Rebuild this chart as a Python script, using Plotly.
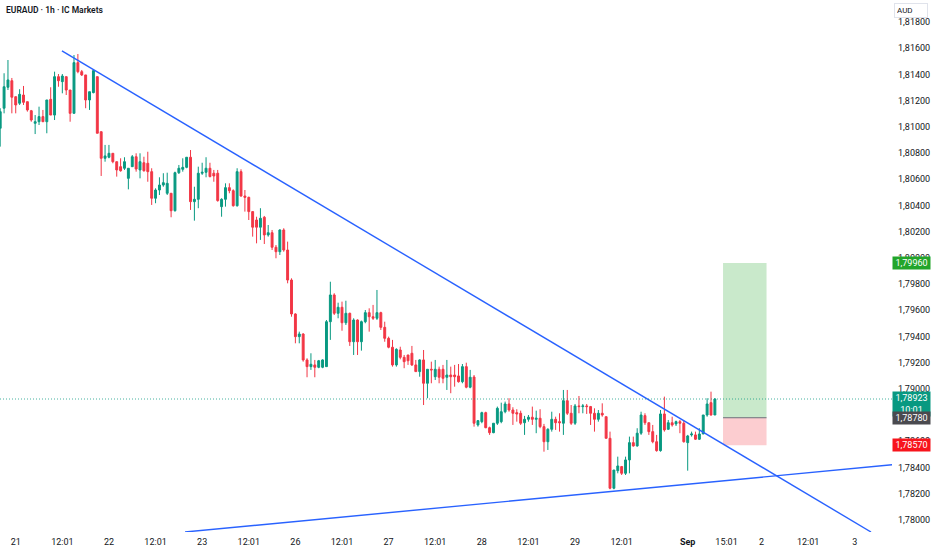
import plotly.graph_objects as go

opens = [1.80989,1.81142,1.81302,1.81352,1.81230,1.81180,1.81243,1.81192,1.81123,1.81027,
1.81039,1.81078,1.81039,1.81210,1.81090,1.81383,1.81345,1.81383,1.81281,1.81103,
1.81490,1.81421,1.81396,1.81205,1.81261,1.81383,1.80963,1.80760,1.80768,1.80798,
1.80734,1.80696,1.80684,1.80607,1.80696,1.80772,1.80671,1.80726,1.80722,1.80658,
1.80455,1.80518,1.80556,1.80493,1.80493,1.80360,1.80650,1.80676,1.80691,1.80768,
1.80429,1.80447,1.80646,1.80653,1.80684,1.80646,1.80646,1.80391,1.80447,1.80536,
1.80513,1.80398,1.80658,1.80472,1.80462,1.80353,1.80289,1.80234,1.80310,1.80175,
1.80192,1.80081,1.80047,1.80213,1.80060,1.79831,1.79572,1.79399,1.79419,1.79221,
1.79170,1.79183,1.79165,1.79165,1.79170,1.79513,1.79717,1.79577,1.79623,1.79505,
1.79577,1.79360,1.79526,1.79360,1.79513,1.79582,1.79551,1.79539,1.79582,1.79470,
1.79386,1.79318,1.79183,1.79297,1.79241,1.79259,1.79272,1.79183,1.79132,1.79221,
1.79043,1.79150,1.79093,1.79150,1.79150,1.79089,1.79106,1.79106,1.79099,1.79055,
1.79170,1.79013,1.79091,1.78725,1.78750,1.78819,1.78704,1.78666,1.78738,1.78750,
1.78826,1.78885,1.78839,1.78819,1.78814,1.78742,1.78768,1.78784,1.78768,1.78776,
1.78712,1.78597,1.78692,1.78768,1.78750,1.78738,1.78910,1.78814,1.78738,1.78870,
1.78865,1.78870,1.78865,1.78814,1.78768,1.78814,1.78788,1.78623,1.78242,1.78376,
1.78407,1.78356,1.78458,1.78590,1.78565,1.78662,1.78796,1.78742,1.78674,1.78597,
1.78529,1.78809,1.78692,1.78742,1.78733,1.78750,1.78738,1.78590,1.78649,1.78649,
1.78616,1.78656,1.78801,1.78895,1.78801]

highs = [1.81142,1.81409,1.81510,1.81373,1.81230,1.81287,1.81312,1.81192,1.81129,1.81090,
1.81154,1.81129,1.81205,1.81302,1.81421,1.81403,1.81403,1.81383,1.81281,1.81548,
1.81556,1.81434,1.81396,1.81268,1.81434,1.81383,1.80963,1.80862,1.80862,1.80798,
1.80734,1.80760,1.80768,1.80684,1.80785,1.80798,1.80798,1.80772,1.80810,1.80684,
1.80531,1.80615,1.80646,1.80650,1.80493,1.80658,1.80709,1.80760,1.80768,1.80823,
1.80543,1.80696,1.80726,1.80768,1.80726,1.80671,1.80671,1.80455,1.80569,1.80569,
1.80523,1.80684,1.80676,1.80518,1.80467,1.80353,1.80314,1.80379,1.80320,1.80251,
1.80213,1.80098,1.80218,1.80226,1.80124,1.79844,1.79577,1.79437,1.79425,1.79234,
1.79272,1.79221,1.79221,1.79226,1.79526,1.79818,1.79730,1.79658,1.79666,1.79673,
1.79582,1.79539,1.79531,1.79521,1.79602,1.79615,1.79641,1.79755,1.79589,1.79513,
1.79399,1.79374,1.79310,1.79322,1.79259,1.79259,1.79328,1.79221,1.79226,1.79297,
1.79150,1.79208,1.79221,1.79170,1.79183,1.79221,1.79170,1.79183,1.79190,1.79190,
1.79200,1.79145,1.79106,1.78758,1.78826,1.78826,1.78712,1.78738,1.78865,1.78895,
1.78903,1.78929,1.78860,1.78845,1.78834,1.78794,1.78801,1.78865,1.78834,1.78845,
1.78733,1.78700,1.78826,1.78788,1.78814,1.78992,1.78992,1.78877,1.78885,1.78946,
1.78885,1.78885,1.78870,1.78852,1.78839,1.78890,1.78788,1.78674,1.78381,1.78483,
1.78412,1.78483,1.78636,1.78636,1.78700,1.78826,1.78814,1.78742,1.78725,1.78649,
1.78839,1.78941,1.78763,1.78788,1.78758,1.78763,1.78758,1.78649,1.78674,1.78674,
1.78700,1.78801,1.78929,1.78979,1.78929]

lows = [1.80849,1.81103,1.81281,1.81103,1.81103,1.81167,1.81167,1.81116,1.81039,1.80945,
1.81014,1.81039,1.80951,1.81090,1.81052,1.81306,1.81256,1.81243,1.81039,1.81103,
1.81409,1.81388,1.81142,1.81129,1.81256,1.80951,1.80625,1.80734,1.80760,1.80722,
1.80620,1.80658,1.80671,1.80523,1.80696,1.80658,1.80607,1.80658,1.80581,1.80404,
1.80417,1.80480,1.80543,1.80480,1.80310,1.80353,1.80640,1.80658,1.80684,1.80366,
1.80284,1.80379,1.80633,1.80615,1.80615,1.80581,1.80429,1.80314,1.80391,1.80493,
1.80391,1.80391,1.80467,1.80353,1.80289,1.80162,1.80111,1.80137,1.80106,1.80162,
1.80060,1.79997,1.80022,1.80047,1.79806,1.79551,1.79348,1.79348,1.79208,1.79089,
1.79145,1.79089,1.79158,1.79158,1.79170,1.79374,1.79564,1.79539,1.79444,1.79488,
1.79328,1.79259,1.79259,1.79292,1.79501,1.79437,1.79526,1.79526,1.79450,1.79360,
1.79310,1.79170,1.79170,1.79226,1.79158,1.79183,1.79175,1.79132,1.79093,1.78877,
1.78929,1.79043,1.79068,1.79043,1.79043,1.78992,1.78967,1.79017,1.79048,1.79043,
1.79005,1.79005,1.78712,1.78712,1.78738,1.78700,1.78649,1.78662,1.78725,1.78738,
1.78814,1.78826,1.78725,1.78750,1.78725,1.78649,1.78750,1.78725,1.78662,1.78700,
1.78521,1.78534,1.78674,1.78687,1.78674,1.78649,1.78801,1.78725,1.78725,1.78814,
1.78814,1.78809,1.78725,1.78674,1.78750,1.78788,1.78623,1.78234,1.78234,1.78356,
1.78343,1.78343,1.78356,1.78559,1.78559,1.78649,1.78725,1.78649,1.78585,1.78521,
1.78521,1.78674,1.78687,1.78712,1.78717,1.78662,1.78590,1.78376,1.78636,1.78610,
1.78610,1.78656,1.78788,1.78796,1.78801]

closes = [1.81116,1.81306,1.81358,1.81226,1.81167,1.81248,1.81187,1.81129,1.81052,1.81039,
1.81078,1.81039,1.81205,1.81090,1.81383,1.81352,1.81388,1.81281,1.81103,1.81490,
1.81421,1.81396,1.81205,1.81268,1.81429,1.80951,1.80760,1.80778,1.80798,1.80734,
1.80671,1.80665,1.80734,1.80684,1.80772,1.80678,1.80734,1.80665,1.80658,1.80455,
1.80518,1.80556,1.80574,1.80569,1.80360,1.80650,1.80684,1.80691,1.80768,1.80429,
1.80447,1.80646,1.80653,1.80684,1.80620,1.80625,1.80437,1.80447,1.80536,1.80513,
1.80398,1.80658,1.80472,1.80462,1.80353,1.80234,1.80234,1.80302,1.80175,1.80192,
1.80081,1.80047,1.80213,1.80060,1.79831,1.79572,1.79399,1.79419,1.79221,1.79170,
1.79188,1.79165,1.79215,1.79221,1.79513,1.79717,1.79577,1.79623,1.79505,1.79577,
1.79360,1.79526,1.79360,1.79513,1.79582,1.79551,1.79539,1.79582,1.79470,1.79386,
1.79318,1.79183,1.79302,1.79241,1.79208,1.79215,1.79183,1.79132,1.79221,1.79043,
1.79150,1.79145,1.79150,1.79089,1.79081,1.79106,1.79093,1.79093,1.79055,1.79170,
1.79013,1.79089,1.78738,1.78758,1.78819,1.78704,1.78666,1.78738,1.78852,1.78826,
1.78885,1.78839,1.78814,1.78809,1.78738,1.78768,1.78784,1.78768,1.78776,1.78712,
1.78597,1.78692,1.78768,1.78742,1.78742,1.78910,1.78814,1.78738,1.78870,1.78865,
1.78870,1.78865,1.78814,1.78768,1.78814,1.78801,1.78623,1.78242,1.78381,1.78412,
1.78356,1.78458,1.78590,1.78565,1.78662,1.78801,1.78742,1.78674,1.78597,1.78529,
1.78809,1.78687,1.78742,1.78725,1.78750,1.78738,1.78597,1.78641,1.78656,1.78616,
1.78656,1.78801,1.78885,1.78801,1.78923]

bars = list(range(len(closes)))

time_tick_bars = [4, 16, 28, 40, 52, 64, 76, 88, 100, 112, 124, 136, 148, 160, 177, 187, 196, 208, 220]
time_tick_labels = ["21", "12:01", "22", "12:01", "23", "12:01", "26", "12:01", "27", "12:01",
                    "28", "12:01", "29", "12:01", "<b>Sep</b>", "15:01", "2", "12:01", "3"]

price_ticks = [round(1.780 + 0.002 * i, 3) for i in range(20)]
price_tick_labels = [f"{p:.5f}".replace(".", ",") for p in price_ticks]

down_line_bars = [15.9, 224.2]
down_line_prices = [1.81579, 1.77908]
up_line_bars = [47.6, 229.7]
up_line_prices = [1.77908, 1.78421]

position_bars = [186.1, 197.3]
target_price = 1.79960
entry_price = 1.78780
stop_price = 1.78570
last_price = closes[-1]
countdown = "10:01"

GREEN = "#089981"
RED = "#F23645"
BLUE = "#2962FF"
FONT = "Roboto"

fig = go.Figure()
fig.add_trace(go.Candlestick(
    x=bars, open=opens, high=highs, low=lows, close=closes,
    increasing=dict(line=dict(color=GREEN, width=1), fillcolor=GREEN),
    decreasing=dict(line=dict(color=RED, width=1), fillcolor=RED),
    whiskerwidth=0, showlegend=False, hoverinfo="skip",
))
fig.add_trace(go.Scatter(x=down_line_bars, y=down_line_prices, mode="lines",
                         line=dict(color=BLUE, width=1.4), showlegend=False, hoverinfo="skip"))
fig.add_trace(go.Scatter(x=up_line_bars, y=up_line_prices, mode="lines",
                         line=dict(color=BLUE, width=1.4), showlegend=False, hoverinfo="skip"))

shapes = [
    dict(type="rect", xref="x", yref="y", x0=position_bars[0], x1=position_bars[1],
         y0=entry_price, y1=target_price, fillcolor="#c9e9cb", line=dict(width=0), layer="below"),
    dict(type="rect", xref="x", yref="y", x0=position_bars[0], x1=position_bars[1],
         y0=stop_price, y1=entry_price, fillcolor="#fccdd0", line=dict(width=0), layer="below"),
    dict(type="line", xref="x", yref="y", x0=position_bars[0], x1=position_bars[1],
         y0=entry_price, y1=entry_price, line=dict(color="#6b6e78", width=1)),
    dict(type="line", xref="paper", yref="y", x0=0, x1=1, y0=last_price, y1=last_price,
         line=dict(color="rgba(8,153,129,0.75)", width=1, dash="1px,2px")),
]

def price_label(price, text, color, yshift=0):
    return dict(xref="paper", yref="y", x=1, y=price, xanchor="left", yanchor="middle",
                text=text, showarrow=False, bgcolor=color, width=35, borderpad=1,
                align="center", yshift=yshift,
                font=dict(family=FONT, size=9, color="white"))

annotations = [
    dict(xref="paper", yref="paper", x=0, y=1, xanchor="left", yanchor="top", xshift=4, yshift=-3,
         text="EURAUD · 1h · IC Markets", showarrow=False,
         font=dict(family=FONT, size=8.5, color="#131722", weight=600)),
    dict(xref="paper", yref="paper", x=1, y=1, xanchor="left", yanchor="top", xshift=2, yshift=-3,
         text="AUD", showarrow=False, bgcolor="white", bordercolor="#e0e3eb", borderwidth=1,
         width=28, align="left", borderpad=2, font=dict(family=FONT, size=8, color="#131722")),
    price_label(target_price, f"{target_price:.5f}".replace(".", ","), "#22a52a"),
    price_label(last_price, f"{last_price:.5f}".replace(".", ",") + "<br>" + countdown, GREEN, yshift=-5),
    price_label(entry_price, f"{entry_price:.5f}".replace(".", ","), "#4a4a4f"),
    price_label(stop_price, f"{stop_price:.5f}".replace(".", ","), "#f7141c"),
]

fig.update_layout(
    width=932, height=550,
    margin=dict(l=0, r=40, t=0, b=18),
    paper_bgcolor="white", plot_bgcolor="white",
    font=dict(family=FONT, size=9, color="#131722"),
    showlegend=False,
    shapes=shapes, annotations=annotations,
    xaxis=dict(range=[-0.05, 229.6], autorange=False, tickmode="array",
               tickvals=time_tick_bars, ticktext=time_tick_labels,
               showgrid=False, zeroline=False, showline=False, ticks="",
               ticklabelstandoff=3,
               rangeslider=dict(visible=False), tickfont=dict(size=9)),
    yaxis=dict(range=[1.77908, 1.81968], autorange=False, side="right",
               tickmode="array", tickvals=price_ticks, ticktext=price_tick_labels,
               showgrid=False, zeroline=False, showline=False, ticks="",
               ticklabelstandoff=5, tickfont=dict(size=9)),
)

fig.write_html("out.html", config={"displayModeBar": False},
               post_script="document.body.style.margin='0';")
